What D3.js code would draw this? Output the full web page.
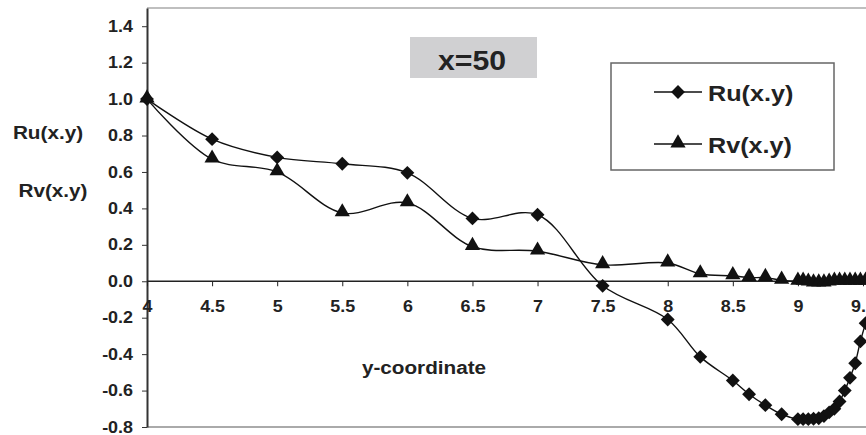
<!DOCTYPE html>
<html>
<head>
<meta charset="utf-8">
<script src="https://cdn.jsdelivr.net/npm/d3@7"></script>
<style>
  body { margin: 0; background: #fff; }
  text { font-family: "Liberation Sans", Arial, sans-serif; font-weight: bold; fill: #222; }
</style>
</head>
<body>
<svg id="chart" width="866" height="435"></svg>
<script>
// data
var yCoord = [4, 4.5, 5, 5.5, 6, 6.5, 7, 7.5, 8, 8.25, 8.5, 8.625, 8.75, 8.875,
              9, 9.04, 9.08, 9.12, 9.16, 9.2, 9.24, 9.28, 9.32, 9.36, 9.4, 9.44, 9.48, 9.52];
var ruValues = [1.0, 0.78, 0.68, 0.645, 0.595, 0.345, 0.365, -0.025, -0.21, -0.415, -0.545, -0.62, -0.68, -0.73,
                -0.757, -0.757, -0.757, -0.755, -0.752, -0.74, -0.72, -0.70, -0.66, -0.60, -0.53, -0.45, -0.33, -0.23];
var rvValues = [1.0, 0.67, 0.60, 0.375, 0.43, 0.19, 0.165, 0.09, 0.10, 0.04, 0.03, 0.02, 0.02, 0.005,
                0.0, 0.0, -0.005, -0.01, -0.01, -0.01, -0.005, 0.0, 0.0, 0.0, 0.0, 0.0, 0.0, 0.0];
var seriesNames = ["Ru(x.y)", "Rv(x.y)"];
var xTicks = [4, 4.5, 5, 5.5, 6, 6.5, 7, 7.5, 8, 8.5, 9, 9.5];
var yTicks = [-0.8, -0.6, -0.4, -0.2, 0, 0.2, 0.4, 0.6, 0.8, 1.0, 1.2, 1.4];
var titleText = "x=50";
var xLabelText = "y-coordinate";

var SX = 1.12; // text in the picture is a little stretched sideways

var svg = d3.select("#chart");

var x = d3.scaleLinear().domain([4, 9.5]).range([147, 863]);
var y = d3.scaleLinear().domain([-0.8, 1.5]).range([427, 8]);

function label(g, px, py, str, size, anchor) {
    return g.append("text")
        .attr("transform", "translate(" + px + "," + py + ") scale(" + SX + ",1)")
        .style("font-size", size + "px")
        .style("text-anchor", anchor || "start")
        .text(str);
}

// plot area border lines (top and bottom)
svg.append("line").attr("x1", 147).attr("x2", 866).attr("y1", 8).attr("y2", 8)
    .attr("stroke", "#aaa").attr("stroke-width", 1.5);
svg.append("line").attr("x1", 147).attr("x2", 866).attr("y1", 427).attr("y2", 427)
    .attr("stroke", "#aaa").attr("stroke-width", 2);

// Y axis
var axisY = svg.append("g")
    .attr("transform", "translate(147,0)")
    .call(d3.axisLeft(y).tickValues(yTicks).tickSize(5).tickSizeOuter(0).tickPadding(9)
        .tickFormat(function (d) { return d.toFixed(1); }));
axisY.select(".domain").attr("stroke", "#333").attr("stroke-width", 2);
axisY.selectAll(".tick line").attr("stroke", "#333");
axisY.selectAll("text")
    .attr("x", -14 / SX)
    .attr("transform", "scale(" + SX + ",1)")
    .style("font-size", "16px").attr("font-family", null);

// X axis, through zero
var axisX = svg.append("g")
    .attr("transform", "translate(0," + y(0) + ")")
    .call(d3.axisBottom(x).tickValues(xTicks).tickSize(5).tickSizeOuter(0).tickPadding(14)
        .tickFormat(function (d) { return String(d); }));
axisX.select(".domain").attr("stroke", "#222").attr("stroke-width", 1.3).attr("d", "M147,0H866");
axisX.selectAll(".tick line").attr("stroke", "#222");
axisX.selectAll("text")
    .attr("transform", "scale(" + SX + ",1)")
    .style("font-size", "16px").attr("font-family", null);

// axis titles
label(svg, 48, 139, seriesNames[0], 18.5, "middle");
label(svg, 53, 197, seriesNames[1], 18.5, "middle");
label(svg, 424, 374, xLabelText, 18.5, "middle");

// title box
svg.append("rect").attr("x", 410).attr("y", 37).attr("width", 127).attr("height", 41)
    .attr("fill", "#d0d0d2");
label(svg, 472, 70, titleText, 27, "middle");

// lines
var line = d3.line()
    .x(function (d) { return x(d[0]); })
    .y(function (d) { return y(d[1]); })
    .curve(d3.curveCatmullRom.alpha(0.5));

var ruData = yCoord.map(function (v, i) { return [v, ruValues[i]]; });
var rvData = yCoord.map(function (v, i) { return [v, rvValues[i]]; });

svg.append("path").datum(rvData).attr("d", line)
    .attr("fill", "none").attr("stroke", "#111").attr("stroke-width", 1.4);
svg.append("path").datum(ruData).attr("d", line)
    .attr("fill", "none").attr("stroke", "#111").attr("stroke-width", 1.4);

var diamond = d3.symbol().type(d3.symbolSquare).size(96);
var triangle = d3.symbol().type(d3.symbolTriangle).size(100);

svg.selectAll(".rv").data(rvData).enter().append("path")
    .attr("class", "rv")
    .attr("d", triangle)
    .attr("transform", function (d) { return "translate(" + x(d[0]) + "," + (y(d[1]) - 1) + ")"; })
    .attr("fill", "#111");

svg.selectAll(".ru").data(ruData).enter().append("path")
    .attr("class", "ru")
    .attr("d", diamond)
    .attr("transform", function (d) { return "translate(" + x(d[0]) + "," + y(d[1]) + ") rotate(45)"; })
    .attr("fill", "#111");

// legend
var legend = svg.append("g");
legend.append("rect").attr("x", 611).attr("y", 63).attr("width", 223).attr("height", 107)
    .attr("fill", "#fff").attr("stroke", "#666").attr("stroke-width", 1.5);
[92, 144].forEach(function (ly, i) {
    legend.append("line").attr("x1", 654).attr("x2", 702).attr("y1", ly).attr("y2", ly)
        .attr("stroke", "#111").attr("stroke-width", 1.4);
    legend.append("path")
        .attr("d", i === 0 ? diamond : triangle)
        .attr("transform", "translate(678," + (i === 0 ? ly : ly - 1) + ")" + (i === 0 ? " rotate(45)" : ""))
        .attr("fill", "#111");
    label(legend, 708, ly + 9, seriesNames[i], 22.5, "start");
});
</script>
</body>
</html>
